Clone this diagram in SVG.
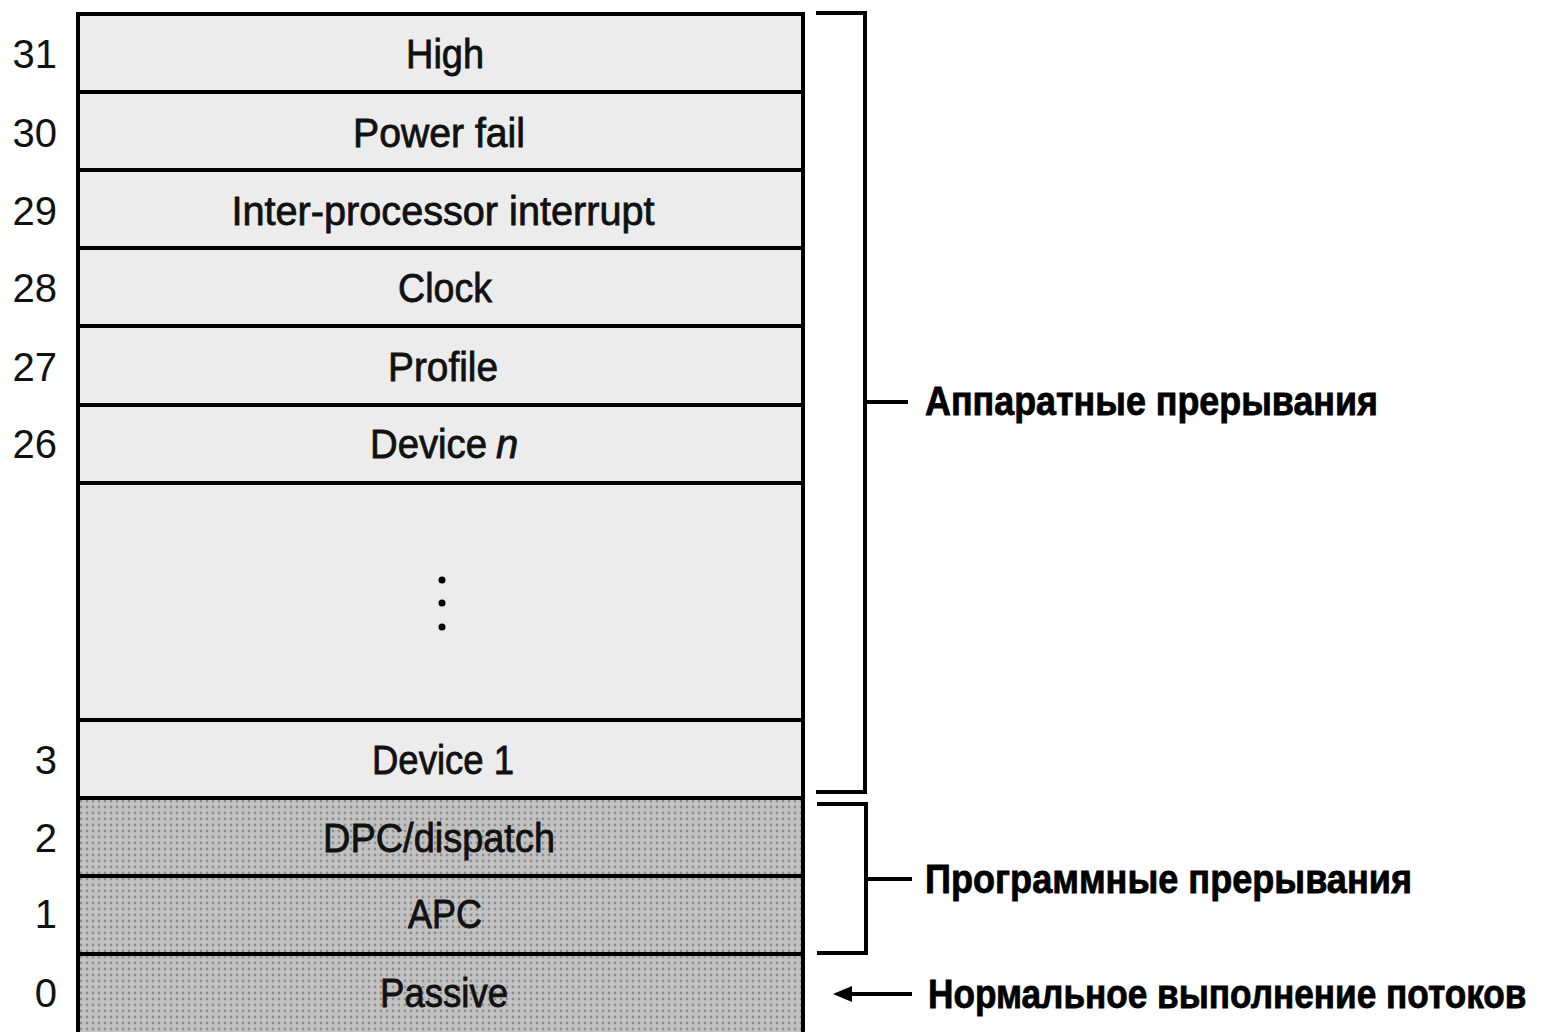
<svg xmlns="http://www.w3.org/2000/svg" width="1546" height="1032" viewBox="0 0 1546 1032">
<style>
.row{stroke:#000;stroke-width:4}
.lt{fill:#ececec}
.lbl{font-family:"Liberation Sans",Arial,sans-serif;font-size:40px;fill:#111;text-anchor:middle;stroke:#111;stroke-width:0.8}
.lbs{font-family:"Liberation Sans",Arial,sans-serif;font-size:40px;fill:#111;stroke:#111;stroke-width:0.8}
.num{font-family:"Liberation Sans",Arial,sans-serif;font-size:40px;fill:#111;text-anchor:end}
.side{font-family:"Liberation Sans",Arial,sans-serif;font-size:40px;font-weight:bold;fill:#000;stroke:#000;stroke-width:0.8}
.br{fill:none;stroke:#000;stroke-width:4}
</style>
<defs>
<pattern id="dots" width="6" height="6" patternUnits="userSpaceOnUse">
<rect width="6" height="6" fill="#c2c2c2"/>
<circle cx="3" cy="3" r="1.4" fill="#8e8e8e"/>
</pattern>
</defs>
<g id="n31"><rect class="row lt" x="78" y="14" width="725" height="78"/><text class="lbl" x="445" y="68" textLength="78" lengthAdjust="spacingAndGlyphs">High</text><text class="num" x="57" y="68">31</text></g>
<g id="n30"><rect class="row lt" x="78" y="92" width="725" height="78"/><text class="lbl" x="439" y="147" textLength="172" lengthAdjust="spacingAndGlyphs">Power fail</text><text class="num" x="57" y="147">30</text></g>
<g id="n29"><rect class="row lt" x="78" y="170" width="725" height="78"/><text class="lbl" x="443" y="225" textLength="423" lengthAdjust="spacingAndGlyphs">Inter-processor interrupt</text><text class="num" x="57" y="225">29</text></g>
<g id="n28"><rect class="row lt" x="78" y="248" width="725" height="78"/><text class="lbl" x="445" y="302" textLength="94" lengthAdjust="spacingAndGlyphs">Clock</text><text class="num" x="57" y="302">28</text></g>
<g id="n27"><rect class="row lt" x="78" y="326" width="725" height="79"/><text class="lbl" x="443" y="381" textLength="110" lengthAdjust="spacingAndGlyphs">Profile</text><text class="num" x="57" y="381">27</text></g>
<g id="n26"><rect class="row lt" x="78" y="405" width="725" height="78"/><text class="lbs" x="370" y="458" textLength="117" lengthAdjust="spacingAndGlyphs">Device</text><text class="lbs" x="496" y="458" font-style="italic">n</text><text class="num" x="57" y="458">26</text></g>
<g id="ngap"><rect class="row lt" x="78" y="483" width="725" height="237"/><circle cx="442" cy="580" r="3.5"/><circle cx="442" cy="603" r="3.5"/><circle cx="442" cy="627" r="3.5"/></g>
<g id="n3"><rect class="row lt" x="78" y="720" width="725" height="78"/><text class="lbl" x="443" y="774" textLength="142" lengthAdjust="spacingAndGlyphs">Device 1</text><text class="num" x="57" y="774">3</text></g>
<g id="n2"><rect class="row" fill="url(#dots)" x="78" y="798" width="725" height="78"/><text class="lbl" x="439" y="852" textLength="232" lengthAdjust="spacingAndGlyphs">DPC/dispatch</text><text class="num" x="57" y="852">2</text></g>
<g id="n1"><rect class="row" fill="url(#dots)" x="78" y="876" width="725" height="78"/><text class="lbl" x="445" y="928" textLength="74" lengthAdjust="spacingAndGlyphs">APC</text><text class="num" x="57" y="928">1</text></g>
<g id="n0"><rect class="row" fill="url(#dots)" x="78" y="954" width="725" height="80"/><text class="lbl" x="444" y="1007" textLength="128" lengthAdjust="spacingAndGlyphs">Passive</text><text class="num" x="57" y="1007">0</text></g>
<g id="connectors">
<path class="br" d="M816,13 H865 V792 H816 M865,402 H908"/>
<path class="br" d="M817,804 H866 V953 H817 M866,879 H912"/>
<line x1="912" y1="994" x2="848" y2="994" stroke="#000" stroke-width="4"/>
<path d="M833,994 L852,986 L852,1002 Z" fill="#000"/>
</g>
<g id="labels">
<text class="side" x="925" y="415" textLength="453" lengthAdjust="spacingAndGlyphs">Аппаратные прерывания</text>
<text class="side" x="925" y="893" textLength="487" lengthAdjust="spacingAndGlyphs">Программные прерывания</text>
<text class="side" transform="translate(928,1008) scale(0.88,1)" x="0" y="0">Нормальное выполнение потоков</text>
</g>
</svg>
